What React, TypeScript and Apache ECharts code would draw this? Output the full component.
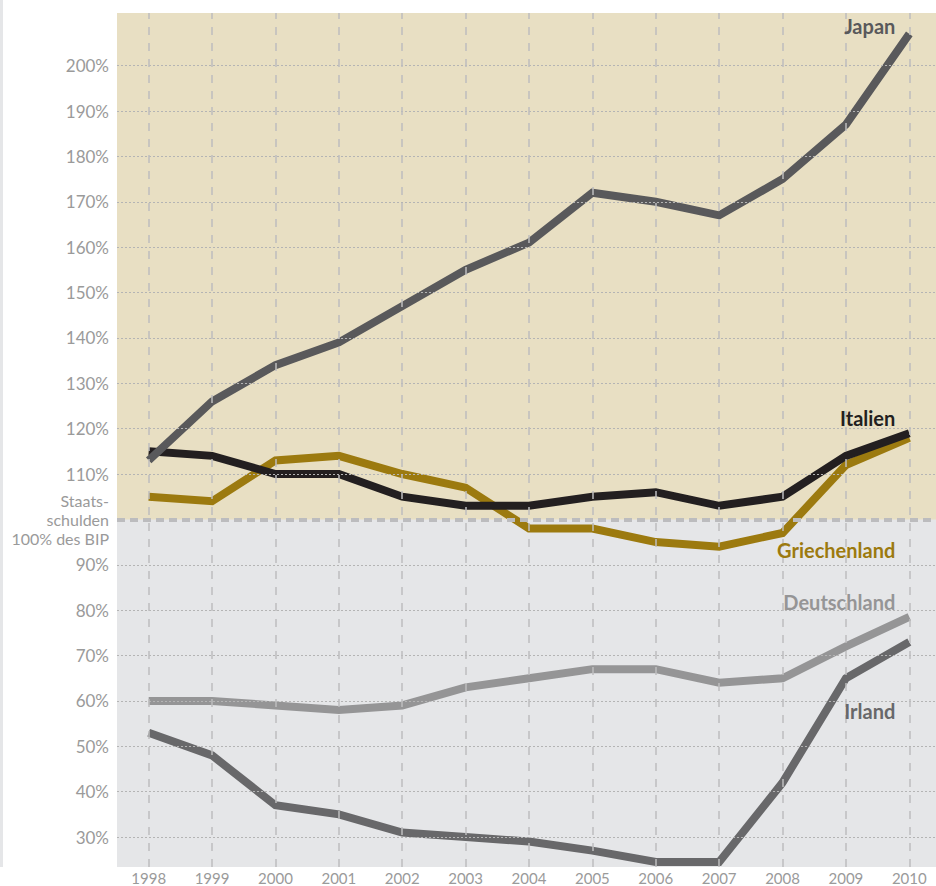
import React, { useEffect, useRef } from "react";
import * as echarts from "echarts";

const years = ["1998", "1999", "2000", "2001", "2002", "2003", "2004", "2005", "2006", "2007", "2008", "2009", "2010"];
const japan = [113, 126, 134, 139, 147, 155, 161, 172, 170, 167, 175, 187, 207];
const italien = [115, 114, 110, 110, 105, 103, 103, 105, 106, 103, 105, 114, 119];
const griechenland = [105, 104, 113, 114, 110, 107, 98, 98, 95, 94, 97, 112, 118];
const deutschland = [60, 60, 59, 58, 59, 63, 65, 67, 67, 64, 65, 72, 78.5];
const irland = [53, 48, 37, 35, 31, 30, 29, 27, 24.5, 24.5, 42, 65, 73];
const yGridValues = [30, 40, 50, 60, 70, 80, 90, 110, 120, 130, 140, 150, 160, 170, 180, 190, 200];
const thresholdValue = 100;
const thresholdLabel = ["Staats-", "schulden", "100% des BIP"];
const yMin = 23.4;
const yMax = 211.6;

type S = { name: string; data: number[]; color: string; labelDy: number };
const seriesDefs: S[] = [
  { name: "Irland", data: irland, color: "#68686a", labelDy: 69 },
  { name: "Deutschland", data: deutschland, color: "#959596", labelDy: -15 },
  { name: "Griechenland", data: griechenland, color: "#9c7a0f", labelDy: 112 },
  { name: "Italien", data: italien, color: "#231f20", labelDy: -15 },
  { name: "Japan", data: japan, color: "#59595b", labelDy: -8 },
];

export default function App() {
  const ref = useRef<HTMLDivElement>(null);
  useEffect(() => {
    if (!ref.current) return;
    const chart = echarts.init(ref.current, null, { renderer: "svg" });
    const font = "Lato, 'Open Sans', sans-serif";
    const last = years.length - 1;
    const lineSeries = seriesDefs.map((s) => ({
      type: "line",
      name: s.name,
      data: s.data,
      z: 3,
      showSymbol: false,
      symbol: "none",
      silent: true,
      lineStyle: { color: s.color, width: 8, cap: "butt", join: "miter" },
      markPoint: {
        symbol: "circle",
        symbolSize: 0,
        silent: true,
        data: [
          {
            coord: [years[last], s.data[last]],
            label: {
              show: true,
              formatter: s.name,
              position: [-14, s.labelDy],
              align: "right",
              verticalAlign: "middle",
              color: s.color,
              fontFamily: font,
              fontWeight: "bold",
              fontSize: 20,
            },
          },
        ],
      },
    }));
    chart.setOption({
      animation: false,
      graphic: [
        { type: "rect", left: 0, top: 0, shape: { width: 3, height: 867 }, style: { fill: "#e5e6e8" }, silent: true },
      ],
      grid: {
        left: 117,
        top: 13,
        bottom: 19,
        width: 824,
        outerBoundsMode: "none",
        containLabel: false,
        show: true,
        backgroundColor: "#e8dfc3",
        borderWidth: 0,
      },
      xAxis: {
        type: "category",
        data: years,
        boundaryGap: true,
        axisLine: { show: false },
        axisTick: { show: false },
        splitLine: { show: false },
        axisLabel: { color: "#9a9a9a", fontSize: 15, lineHeight: 15, fontFamily: font, margin: 3, interval: 0 },
      },
      yAxis: {
        type: "value",
        min: yMin,
        max: yMax,
        minInterval: 10,
        maxInterval: 10,
        axisLine: { show: false },
        axisTick: { show: false },
        splitLine: { show: false },
        axisLabel: {
          color: "#9a9a9a",
          fontSize: 17,
          fontFamily: font,
          margin: 8,
          lineHeight: 19,
          showMinLabel: false,
          showMaxLabel: false,
          rich: { t: { fontSize: 16, lineHeight: 19, color: "#9a9a9a", fontFamily: font, align: "right" } },
          formatter: (v: number) => {
            if (Math.abs(v - thresholdValue) < 1e-6) return thresholdLabel.map((l) => "{t|" + l + "}").join("\n");
            if (yGridValues.some((g) => Math.abs(g - v) < 1e-6)) return v + "%";
            return "";
          },
        },
      },
      series: [
        {
          type: "line",
          name: "bg",
          data: years.map(() => null),
          z: 1,
          silent: true,
          markArea: {
            silent: true,
            itemStyle: { color: "#e5e6e8" },
            data: [[{ yAxis: yMin }, { yAxis: thresholdValue }]],
          },
        },
        ...lineSeries,
        {
          type: "line",
          name: "gridlines",
          data: years.map(() => null),
          z: 5,
          silent: true,
          markLine: {
            silent: true,
            symbol: ["none", "none"],
            label: { show: false },
            data: [
              ...yGridValues.map((v) => ({
                yAxis: v,
                lineStyle: { color: "#b4b4b4", width: 1, type: [2, 2] },
              })),
              ...years.map((y) => ({
                xAxis: y,
                lineStyle: { color: "#bdbdbf", width: 1.5, type: [8, 8] },
              })),
              {
                yAxis: thresholdValue,
                lineStyle: { color: "#bcbcbe", width: 4, type: [8, 5] },
              },
            ],
          },
        },
      ],
    });
    return () => chart.dispose();
  }, []);
  return <div ref={ref} style={{ position: "absolute", left: 0, top: 0, width: 936, height: 886 }} />;
}
